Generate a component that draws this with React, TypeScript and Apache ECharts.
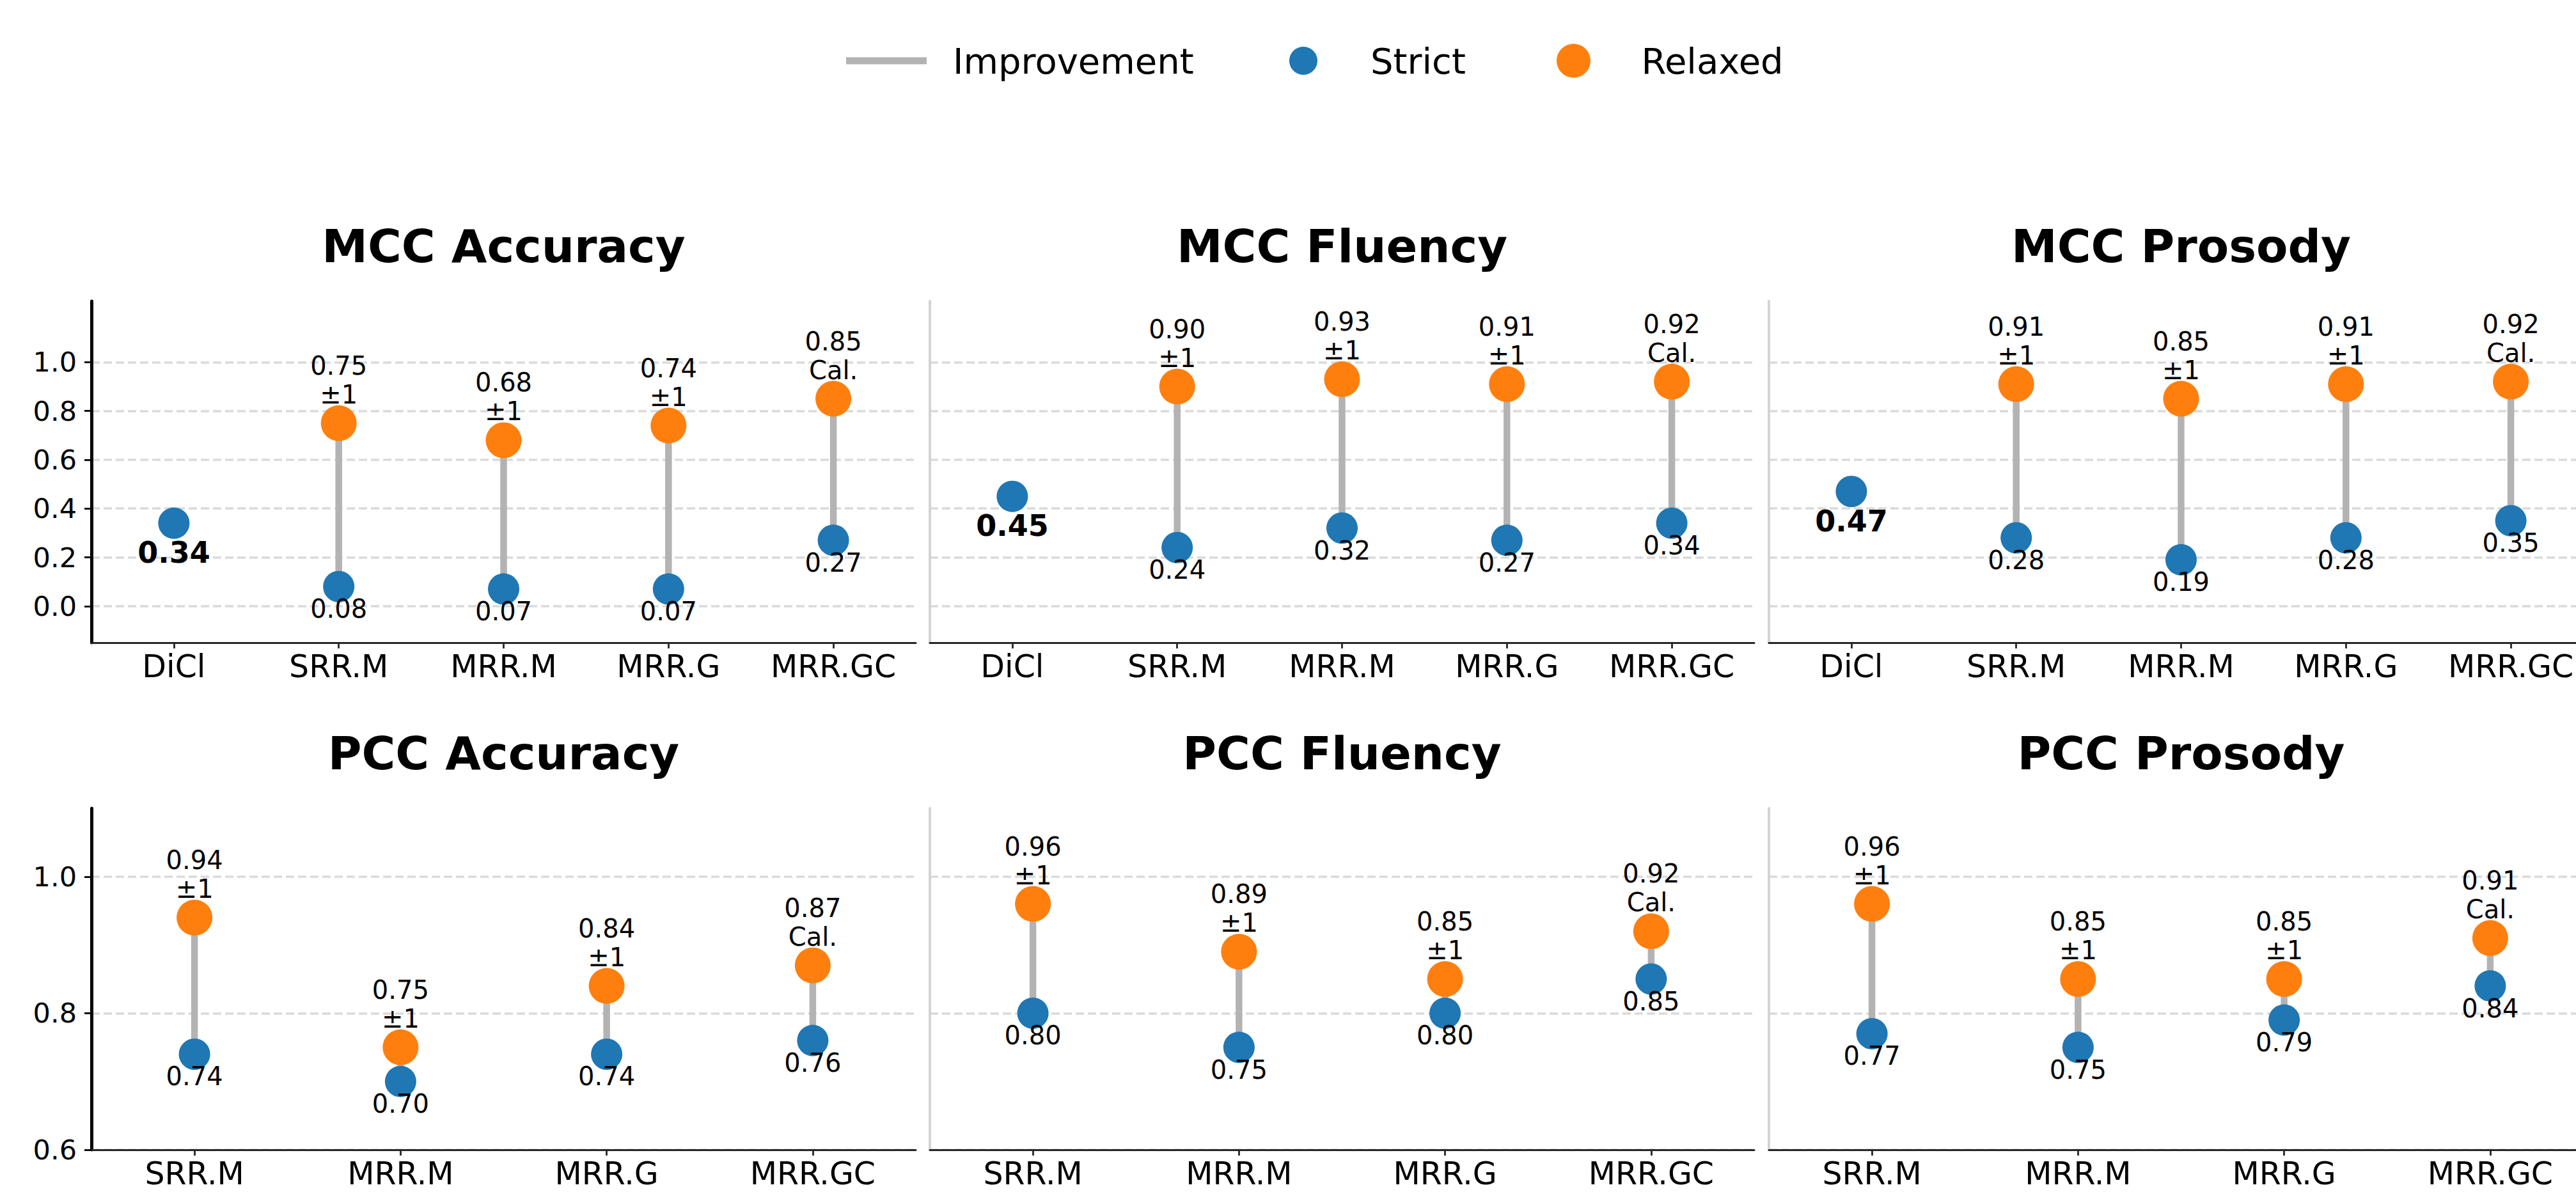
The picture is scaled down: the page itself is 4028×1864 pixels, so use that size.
import React, { useEffect, useRef } from 'react';
import * as echarts from 'echarts';

// ---------------- data ----------------
const topCategories = ['DiCl', 'SRR.M', 'MRR.M', 'MRR.G', 'MRR.GC'];
const bottomCategories = ['SRR.M', 'MRR.M', 'MRR.G', 'MRR.GC'];

const mccAccuracyStrict = [0.34, 0.08, 0.07, 0.07, 0.27];
const mccAccuracyRelaxed = [null, 0.75, 0.68, 0.74, 0.85];
const mccFluencyStrict = [0.45, 0.24, 0.32, 0.27, 0.34];
const mccFluencyRelaxed = [null, 0.9, 0.93, 0.91, 0.92];
const mccProsodyStrict = [0.47, 0.28, 0.19, 0.28, 0.35];
const mccProsodyRelaxed = [null, 0.91, 0.85, 0.91, 0.92];

const pccAccuracyStrict = [0.74, 0.7, 0.74, 0.76];
const pccAccuracyRelaxed = [0.94, 0.75, 0.84, 0.87];
const pccFluencyStrict = [0.8, 0.75, 0.8, 0.85];
const pccFluencyRelaxed = [0.96, 0.89, 0.85, 0.92];
const pccProsodyStrict = [0.77, 0.75, 0.79, 0.84];
const pccProsodyRelaxed = [0.96, 0.85, 0.85, 0.91];

const topRelaxedTags = ['', '±1', '±1', '±1', 'Cal.'];
const bottomRelaxedTags = ['±1', '±1', '±1', 'Cal.'];

const topTicks = [0, 0.2, 0.4, 0.6, 0.8, 1.0];
const bottomTicks = [0.6, 0.8, 1.0];
const topRange = [-0.15, 1.25];
const bottomRange = [0.6, 1.1];

const panelTitles = ['MCC Accuracy', 'MCC Fluency', 'MCC Prosody', 'PCC Accuracy', 'PCC Fluency', 'PCC Prosody'];

// ---------------- styling / layout ----------------
const FONT = 'DejaVu Sans';
const BLUE = '#1f77b4';
const ORANGE = '#ff7f0e';
const LINE_COLOR = '#b3b3b3';
const COL_LEFT = [143, 1454, 2766];
const ROW_TOP = [471, 1264];
const PANEL_W = 1289;
const PANEL_H = 534;
const TITLE_Y = [385, 1178];

const panels = [
  { title: panelTitles[0], row: 0, col: 0, cats: topCategories, strict: mccAccuracyStrict, relaxed: mccAccuracyRelaxed, tags: topRelaxedTags, ticks: topTicks, range: topRange },
  { title: panelTitles[1], row: 0, col: 1, cats: topCategories, strict: mccFluencyStrict, relaxed: mccFluencyRelaxed, tags: topRelaxedTags, ticks: topTicks, range: topRange },
  { title: panelTitles[2], row: 0, col: 2, cats: topCategories, strict: mccProsodyStrict, relaxed: mccProsodyRelaxed, tags: topRelaxedTags, ticks: topTicks, range: topRange },
  { title: panelTitles[3], row: 1, col: 0, cats: bottomCategories, strict: pccAccuracyStrict, relaxed: pccAccuracyRelaxed, tags: bottomRelaxedTags, ticks: bottomTicks, range: bottomRange },
  { title: panelTitles[4], row: 1, col: 1, cats: bottomCategories, strict: pccFluencyStrict, relaxed: pccFluencyRelaxed, tags: bottomRelaxedTags, ticks: bottomTicks, range: bottomRange },
  { title: panelTitles[5], row: 1, col: 2, cats: bottomCategories, strict: pccProsodyStrict, relaxed: pccProsodyRelaxed, tags: bottomRelaxedTags, ticks: bottomTicks, range: bottomRange },
];

function buildOption() {
  const grids: any[] = [];
  const xAxes: any[] = [];
  const yAxes: any[] = [];
  const series: any[] = [];
  const titles: any[] = [];

  panels.forEach((p, idx) => {
    const first = p.col === 0;
    grids.push({
      left: COL_LEFT[p.col],
      top: ROW_TOP[p.row],
      width: PANEL_W,
      height: PANEL_H,
      containLabel: false,
      outerBoundsMode: 'none',
    });
    xAxes.push({
      type: 'category',
      gridIndex: idx,
      data: p.cats,
      boundaryGap: true,
      axisLine: { show: true, onZero: false, lineStyle: { color: '#262626', width: 3 } },
      axisTick: { show: true, alignWithLabel: true, length: 9, lineStyle: { color: '#262626', width: 2.8 } },
      axisLabel: { show: true, interval: 0, margin: 13, fontSize: 49, color: '#000', fontFamily: FONT },
      splitLine: { show: false },
    });
    yAxes.push({
      type: 'value',
      gridIndex: idx,
      min: p.range[0],
      max: p.range[1],
      axisLine: { show: true, onZero: false, lineStyle: { color: first ? '#000' : '#d3d3d3', width: first ? 5 : 4 } },
      axisTick: { show: first, customValues: p.ticks, length: 11, lineStyle: { color: '#000', width: 2.8 } },
      axisLabel: {
        show: first,
        customValues: p.ticks,
        margin: 23,
        fontSize: 43,
        color: '#000',
        fontFamily: FONT,
        formatter: (v: number) => v.toFixed(1),
      },
      splitLine: { show: true, lineStyle: { color: '#dadada', width: 3.5, type: [13, 6] } },
    });

    const lineData: any[] = [];
    const strictData: any[] = [];
    const relaxedData: any[] = [];
    p.cats.forEach((_c, i) => {
      const s = p.strict[i];
      const r = p.relaxed[i];
      if (r === null || r === undefined) {
        strictData.push({
          value: [i, s],
          label: { fontSize: 46, fontWeight: 'bold', lineHeight: 50, distance: -3.5 },
        });
      } else {
        strictData.push({ value: [i, s] });
        relaxedData.push({ value: [i, r], tag: p.tags[i] });
        lineData.push([i, s, r]);
      }
    });

    series.push({
      type: 'custom',
      name: 'Improvement',
      xAxisIndex: idx,
      yAxisIndex: idx,
      z: 2,
      itemStyle: { color: LINE_COLOR },
      encode: { x: 0, y: [1, 2] },
      data: lineData,
      renderItem: (_params: any, api: any) => {
        const a = api.coord([api.value(0), api.value(1)]);
        const b = api.coord([api.value(0), api.value(2)]);
        return {
          type: 'line',
          shape: { x1: a[0], y1: a[1], x2: b[0], y2: b[1] },
          style: { stroke: LINE_COLOR, lineWidth: 10.5 },
        };
      },
    });
    series.push({
      type: 'scatter',
      name: 'Strict',
      xAxisIndex: idx,
      yAxisIndex: idx,
      z: 3,
      symbol: 'circle',
      symbolSize: 49,
      itemStyle: { color: BLUE, opacity: 1 },
      label: {
        show: true,
        position: 'bottom',
        distance: -12,
        fontSize: 40,
        lineHeight: 45,
        color: '#000',
        fontFamily: FONT,
        formatter: (prm: any) => Number(prm.value[1]).toFixed(2),
      },
      data: strictData,
    });
    series.push({
      type: 'scatter',
      name: 'Relaxed',
      xAxisIndex: idx,
      yAxisIndex: idx,
      z: 4,
      symbol: 'circle',
      symbolSize: 56,
      itemStyle: { color: ORANGE, opacity: 1 },
      label: {
        show: true,
        position: 'top',
        distance: -5.5,
        fontSize: 40,
        lineHeight: 45,
        color: '#000',
        fontFamily: FONT,
        formatter: (prm: any) => `${Number(prm.value[1]).toFixed(2)}\n${prm.data.tag}`,
      },
      data: relaxedData,
    });

    const cx = COL_LEFT[p.col] + PANEL_W / 2;
    titles.push({
      type: 'text',
      x: cx,
      y: TITLE_Y[p.row],
      style: {
        text: p.title,
        fontSize: 72,
        fontWeight: 'bold',
        fontFamily: FONT,
        fill: '#000',
        align: 'center',
        verticalAlign: 'middle',
        textAlign: 'center',
        textVerticalAlign: 'middle',
      },
    });
  });

  const legendText = (pad: number) => ({ fontSize: 56, fontFamily: FONT, color: '#000', padding: [0, 0, 0, pad] });

  return {
    animation: false,
    backgroundColor: '#fff',
    grid: grids,
    xAxis: xAxes,
    yAxis: yAxes,
    series,
    graphic: { elements: titles },
    legend: [
      {
        data: [{ name: 'Improvement', icon: 'rect', itemStyle: { color: LINE_COLOR } }],
        left: 1323,
        top: 67,
        padding: 0,
        itemWidth: 126,
        itemHeight: 11,
        selectedMode: false,
        textStyle: legendText(36),
      },
      {
        data: [{ name: 'Strict', icon: 'circle', itemStyle: { color: BLUE } }],
        left: 2016,
        top: 67,
        padding: 0,
        itemWidth: 126,
        itemHeight: 44,
        selectedMode: false,
        textStyle: legendText(37),
      },
      {
        data: [{ name: 'Relaxed', icon: 'circle', itemStyle: { color: ORANGE } }],
        left: 2434,
        top: 67,
        padding: 0,
        itemWidth: 126,
        itemHeight: 53,
        selectedMode: false,
        textStyle: legendText(38),
      },
    ],
  };
}

export default function App() {
  const ref = useRef<HTMLDivElement>(null);
  useEffect(() => {
    if (!ref.current) return;
    const chart = echarts.init(ref.current, undefined, { renderer: 'svg' });
    chart.setOption(buildOption() as any);
    return () => chart.dispose();
  }, []);
  return (
    <div
      ref={ref}
      style={{ position: 'absolute', left: 0, top: 0, width: 4028, height: 1864, background: '#fff' }}
    />
  );
}
